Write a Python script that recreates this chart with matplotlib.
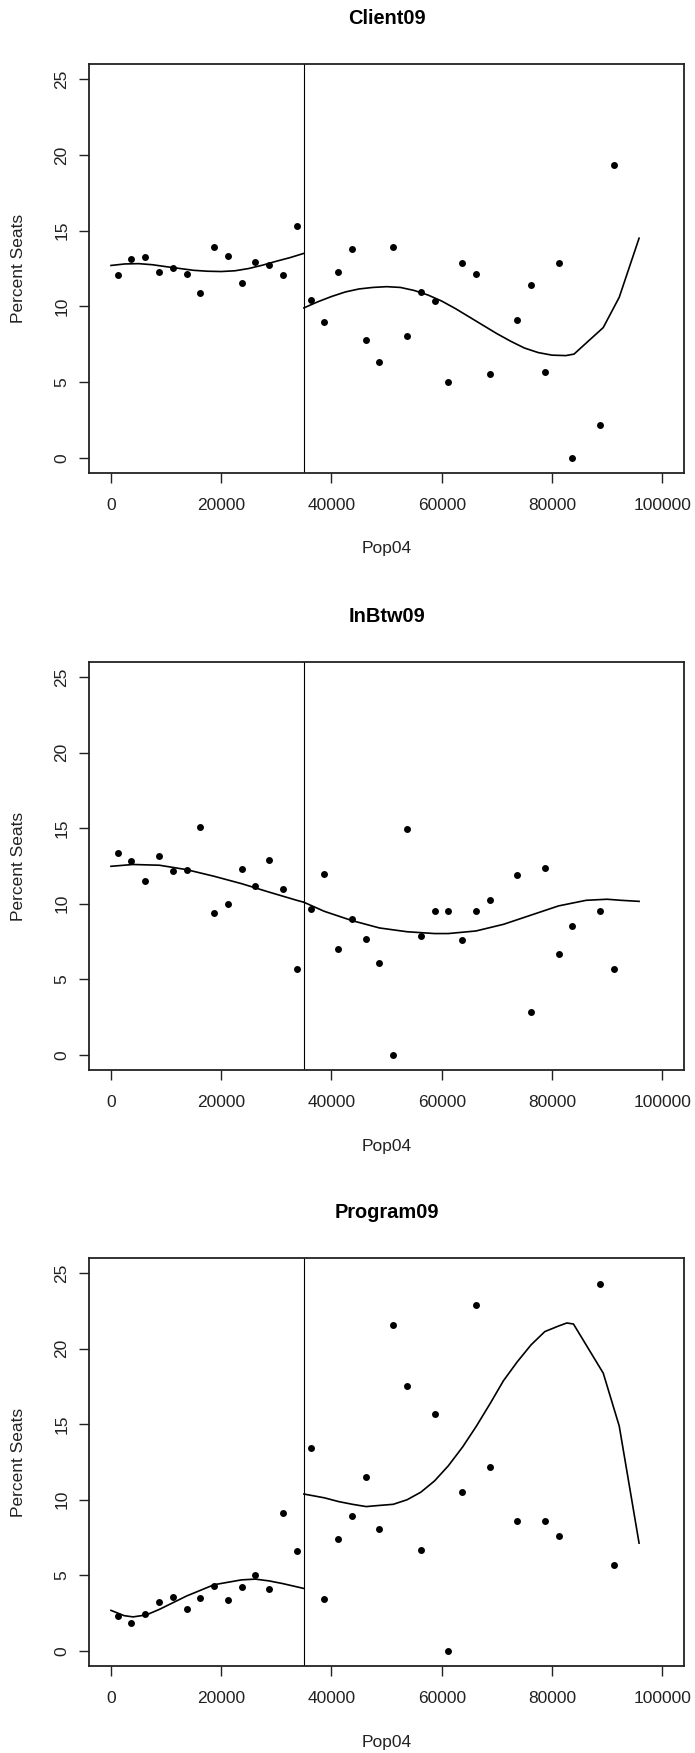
import matplotlib
matplotlib.use("Agg")
import matplotlib.pyplot as plt
import numpy as np

plt.rcParams['font.family'] = ['Liberation Sans', 'DejaVu Sans']

# district population (x) for the dots
pop = [1200, 3700, 6200, 8700, 11200, 13700, 16200, 18700, 21200, 23700,
       26200, 28700, 31200, 33700, 36200, 38700, 41200, 43700, 46200, 48700,
       51200, 53700, 56200, 58700, 61200, 63700, 66200, 68700, 73700, 76200,
       78700, 81200, 83700, 88700, 91200]

client = [12.1, 13.1, 13.25, 12.25, 12.55, 12.15, 10.9, 13.9, 13.3, 11.55,
          12.9, 12.75, 12.1, 15.3, 10.45, 8.95, 12.25, 13.8, 7.8, 6.3,
          13.9, 8.05, 10.95, 10.35, 5.0, 12.85, 12.15, 5.55, 9.1, 11.4,
          5.7, 12.85, 0.0, 2.15, 19.3]

inbtw = [13.35, 12.8, 11.5, 13.15, 12.15, 12.25, 15.05, 9.4, 10.0, 12.3,
         11.2, 12.9, 11.0, 5.7, 9.65, 11.95, 7.0, 9.0, 7.65, 6.1,
         0.0, 14.95, 7.9, 9.5, 9.5, 7.6, 9.5, 10.25, 11.9, 2.85,
         12.35, 6.65, 8.55, 9.5, 5.7]

pop_prog = [1200, 3700, 6200, 8700, 11200, 13700, 16200, 18700, 21200, 23700,
            26200, 28700, 31200, 33700, 36200, 38700, 41200, 43700, 46200, 48700,
            51200, 53700, 56200, 58700, 61200, 63700, 66200, 68700, 73700,
            78700, 81200, 88700, 91200]

program = [2.3, 1.85, 2.45, 3.25, 3.55, 2.75, 3.5, 4.3, 3.35, 4.25,
           5.0, 4.1, 9.1, 6.6, 13.4, 3.45, 7.4, 8.95, 11.5, 8.05,
           21.55, 17.55, 6.7, 15.7, 0.0, 10.5, 22.9, 12.15, 8.6,
           8.6, 7.6, 24.3, 5.7]

# smoothed fits, left and right of the cutoff
cut = 35000

client_lx = [0, 2500, 5000, 7500, 10000, 12500, 15000, 17500, 20000, 22500,
             25000, 27500, 30000, 32500, 35000]
client_ly = [12.7, 12.8, 12.82, 12.75, 12.62, 12.5, 12.38, 12.32, 12.3, 12.35,
             12.5, 12.72, 12.98, 13.22, 13.5]
client_rx = [35000, 37500, 40000, 42500, 45000, 47500, 50000, 52500, 55000,
             57500, 60000, 62500, 65000, 67500, 70000, 72500, 75000, 77500,
             80000, 82500, 84000, 89300, 92200, 95800]
client_ry = [9.9, 10.3, 10.65, 10.95, 11.15, 11.25, 11.3, 11.25, 11.05,
             10.75, 10.35, 9.85, 9.3, 8.75, 8.2, 7.7, 7.25, 6.95,
             6.78, 6.75, 6.85, 8.6, 10.6, 14.5]

inbtw_lx = [0, 4000, 8800, 13700, 18700, 23700, 28700, 33700, 35000]
inbtw_ly = [12.48, 12.6, 12.55, 12.26, 11.82, 11.33, 10.77, 10.23, 10.1]
inbtw_rx = [35000, 38700, 43700, 48700, 53700, 58700, 61200, 66200, 71200,
            76200, 81200, 86200, 90000, 92500, 95800]
inbtw_ry = [10.1, 9.5, 8.89, 8.4, 8.15, 8.03, 8.03, 8.2, 8.64,
            9.25, 9.86, 10.23, 10.3, 10.23, 10.16]

prog_lx = [0, 2400, 4000, 6400, 8800, 13700, 18700, 23700, 26200, 28700,
           31200, 35000]
prog_ly = [2.68, 2.33, 2.25, 2.38, 2.75, 3.63, 4.38, 4.7, 4.75, 4.63,
           4.45, 4.13]
prog_rx = [35000, 38700, 41300, 43800, 46300, 48800, 51200, 53700, 56200,
           58700, 61200, 63800, 66300, 68800, 71200, 73700, 76200, 78700,
           81200, 82700, 83900, 89300, 92200, 95800]
prog_ry = [10.38, 10.13, 9.88, 9.7, 9.55, 9.63, 9.7, 10.0, 10.5,
           11.25, 12.25, 13.5, 14.88, 16.38, 17.88, 19.13, 20.25, 21.13,
           21.5, 21.7, 21.63, 18.38, 14.88, 7.13]

W, H = 695, 1753
box_left, box_right = 89, 684
boxes = [(64, 473), (662, 1070), (1258, 1666)]


def panel(fig, top, bottom, title, x, y, lx, ly, rx, ry):
    ax = fig.add_axes([box_left / W, 1 - bottom / H,
                       (box_right - box_left) / W, (bottom - top) / H])
    ax.plot(x, y, 'o', color='black', markersize=5, markeredgewidth=0)
    ax.plot(lx, ly, color='black', lw=1.2)
    ax.plot(rx, ry, color='black', lw=1.2)
    ax.axvline(cut, color='black', lw=0.8)

    ax.set_xlim(-3990, 103950)
    ax.set_ylim(-1.0, 26.0)
    ax.set_xticks(np.arange(0, 100001, 20000))
    ax.set_xticklabels(['0', '20000', '40000', '60000', '80000', '100000'])
    ax.set_yticks([0, 5, 10, 15, 20, 25])
    ax.tick_params(direction='out', length=7, width=1.0, labelsize=12.5,
                   colors='#222222')
    ax.tick_params(axis='x', pad=11)
    ax.tick_params(axis='y', pad=7)
    for lab in ax.get_yticklabels():
        lab.set_rotation(90)
        lab.set_va('center')
    for s in ax.spines.values():
        s.set_linewidth(1.3)
        s.set_color('#222222')

    cx = (box_left + box_right) / 2 / W
    fig.text(cx, 1 - (top - 46) / H, title, ha='center', va='center',
             fontsize=14.4, fontweight='bold')
    fig.text(cx, 1 - (bottom + 76) / H, 'Pop04', ha='center', va='center',
             fontsize=12.5, color='#222222')
    fig.text(19 / W, 1 - (top + bottom) / 2 / H, 'Percent Seats',
             ha='center', va='center', rotation=90, fontsize=12.5,
             color='#222222')
    return ax


fig = plt.figure(figsize=(W / 100, H / 100), dpi=100)
panel(fig, boxes[0][0], boxes[0][1], 'Client09', pop, client,
      client_lx, client_ly, client_rx, client_ry)
panel(fig, boxes[1][0], boxes[1][1], 'InBtw09', pop, inbtw,
      inbtw_lx, inbtw_ly, inbtw_rx, inbtw_ry)
panel(fig, boxes[2][0], boxes[2][1], 'Program09', pop_prog, program,
      prog_lx, prog_ly, prog_rx, prog_ry)

fig.savefig('out.png', dpi=100)
